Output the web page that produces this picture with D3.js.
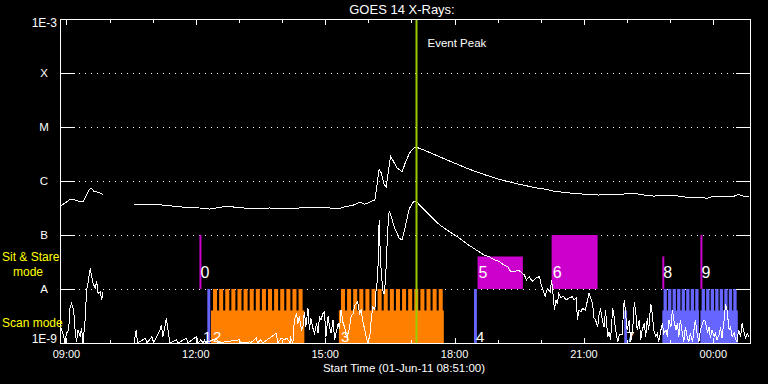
<!DOCTYPE html>
<html>
<head>
<meta charset="utf-8">
<script src="https://cdn.jsdelivr.net/npm/d3@7"></script>
<style>
  body { margin: 0; background: #000; }
  svg { display: block; font-family: "Liberation Sans", Arial, sans-serif; }
</style>
</head>
<body>
<svg id="chart" width="768" height="384"></svg>
<script>
// plot starts 01-Jun-11 08:51:00 and runs 16 hours
const startTime = Date.UTC(2011, 5, 1, 8, 51);
const spanMinutes = 960;
const levelNames = ["A", "B", "C", "M", "X"];
const levelValues = [1e-8, 1e-7, 1e-6, 1e-5, 1e-4];
const eventPeak = "17:07";

// GOES long channel: [minutes after 08:51, log10 flux]
const longChannel = [
  [1,-6.46],[7,-6.41],[14,-6.34],[21,-6.35],[28,-6.39],[32,-6.38],[36,-6.29],[41,-6.15],[44,-6.14],[47,-6.19],
  [53,-6.21],[60,-6.25],[61,null],
  [103,-6.44],[111,-6.43],[125,-6.43],[139,-6.44],[153,-6.46],[167,-6.48],[181,-6.49],[194,-6.50],[208,-6.52],
  [226,-6.48],[240,-6.48],[264,-6.51],[292,-6.50],[319,-6.51],[347,-6.49],[375,-6.50],[389,-6.51],[396,-6.48],
  [410,-6.44],[417,-6.39],[424,-6.43],[433,-6.38],[438,-6.35],[440,-6.17],[444,-5.78],[447,-5.85],[451,-6.07],
  [454,-6.11],[457,-5.80],[460,-5.54],[464,-5.64],[469,-5.76],[476,-5.83],[481,-5.64],[486,-5.49],[492,-5.39],
  [497,-5.38],[507,-5.43],[528,-5.55],[549,-5.67],[569,-5.78],[590,-5.88],[611,-5.97],[639,-6.06],[667,-6.14],
  [674,-6.15],[688,-6.19],[701,-6.21],[715,-6.23],[736,-6.25],[750,-6.26],[757,-6.25],[771,-6.26],[785,-6.24],
  [799,-6.23],[813,-6.26],[826,-6.28],[847,-6.26],[861,-6.28],[872,-6.30],[889,-6.30],[900,-6.32],[910,-6.28],
  [924,-6.28],[938,-6.28],[944,-6.25],[951,-6.28],[958,-6.28]
];

// GOES short channel: [minutes after 08:51, log10 flux]
const shortChannel = [
  [2,-8.73],[5,-8.88],[7,-9],[9,-8.82],[12,-8.76],[14,-8.33],[16,-8.27],[19,-8.39],[21,-8.76],[23,-8.98],
  [25,-8.76],[28,-8.88],[30,-8.73],[32,-9],[35,-8.57],[37,-8.02],[39,-7.89],[42,-7.62],[44,-7.77],[46,-7.89],
  [49,-7.99],[51,-7.86],[53,-8.08],[56,-8.05],[58,-8.2],[60,-8.05],[61,null],
  [103,-9],[106,-8.76],[108,-9],[119,-8.91],[121,-9],[128,-8.88],[130,-9],[139,-8.76],[141,-8.67],[143,-8.88],
  [146,-8.7],[148,-8.54],[150,-8.73],[153,-9],[162,-8.94],[164,-9],[176,-8.91],[178,-9],[190,-8.88],[192,-9],
  [196,-8.94],[199,-9],[201,-8.94],[203,-9],[218,-8.91],[219,-9],[250,-8.94],[251,-9],[264,-8.98],[265,-9],
  [273,-8.91],[275,-9],[279,-8.94],[282,-9],[301,-8.82],[303,-9],[308,-8.91],[312,-8.94],[316,-8.91],[320,-9],
  [321,-8.91],[324,-9],[326,-8.57],[329,-8.45],[331,-8.64],[333,-8.51],[336,-8.76],[338,-8.7],[340,-8.42],
  [342,-8.7],[345,-8.36],[347,-8.76],[349,-8.54],[352,-8.73],[354,-8.82],[357,-8.64],[359,-8.82],[361,-8.51],
  [363,-8.57],[366,-8.45],[368,-8.42],[370,-8.88],[373,-8.51],[375,-8.7],[377,-8.82],[380,-8.57],[382,-8.94],
  [384,-8.82],[387,-8.64],[389,-8.73],[391,-8.39],[394,-8.64],[396,-8.7],[398,-8.85],[400,-8.88],[403,-8.7],
  [405,-8.51],[408,-8.45],[410,-8.3],[412,-8.27],[414,-8.24],[417,-8.45],[419,-8.39],[421,-8.57],[424,-8.76],
  [426,-8.88],[428,-8.98],[431,-8.88],[433,-8.57],[435,-8.33],[438,-8.39],[440,-7.96],[442,-7.83],[444,-6.72],
  [446,-7.5],[449,-8.02],[451,-8.1],[453,-7.8],[456,-6.9],[458,-6.55],[461,-6.66],[465,-6.85],[472,-7.06],
  [476,-7.09],[481,-6.81],[486,-6.51],[492,-6.38],[496,-6.38],[500,-6.44],[514,-6.63],[528,-6.81],[542,-6.94],
  [556,-7.06],[569,-7.19],[583,-7.31],[590,-7.37],[597,-7.4],[604,-7.46],[611,-7.49],[618,-7.56],[623,-7.59],
  [627,-7.68],[632,-7.68],[637,-7.65],[641,-7.68],[646,-7.74],[649,-7.83],[653,-7.77],[657,-7.86],[662,-7.8],
  [667,-7.77],[669,-7.89],[672,-8.02],[675,-8.14],[678,-7.99],[682,-8.05],[684,-7.83],[688,-8.39],[690,-8.2],
  [692,-8.27],[694,-8.08],[697,-8.17],[700,-8.13],[704,-8.2],[708,-8.17],[713,-8.14],[715,-8.2],[718,-8.17],
  [720,-8.57],[722,-8.39],[725,-8.42],[727,-8.36],[731,-8.39],[736,-8.08],[739,-8.2],[741,-8.27],[743,-8.54],
  [745,-8.57],[748,-8.7],[750,-8.48],[752,-8.36],[755,-8.6],[757,-8.7],[759,-8.39],[762,-8.88],[764,-8.8],
  [766,-8.94],[769,-8.36],[771,-8.51],[773,-8.76],[776,-8.98],[778,-8.85],[782,-8.85],[785,-8.2],[787,-8.45],
  [789,-8.76],[792,-8.57],[794,-8.98],[797,-8.7],[799,-8.24],[801,-8.42],[803,-8.76],[806,-8.57],[808,-8.94],
  [810,-8.76],[813,-8.64],[815,-8.88],[817,-8.54],[819,-8.76],[822,-8.27],[824,-8.45],[826,-8.76],[829,-8.88],
  [831,-8.82],[833,-8.98],[836,-8.76],[838,-8.64],[840,-8.82],[843,-8.76],[845,-8.88],[847,-8.57],[850,-8.7],
  [852,-8.39],[854,-8.57],[857,-8.76],[859,-8.64],[861,-8.88],[863,-8.57],[866,-8.82],[868,-8.98],[870,-8.7],
  [873,-8.91],[875,-8.98],[877,-8.82],[880,-8.98],[882,-8.76],[884,-8.57],[887,-8.88],[889,-8.98],[891,-8.76],
  [894,-8.64],[896,-8.57],[898,-8.6],[901,-8.82],[903,-8.7],[905,-8.91],[907,-8.76],[910,-8.88],[912,-8.82],
  [914,-8.94],[917,-8.85],[919,-8.7],[921,-8.91],[924,-8.57],[926,-8.27],[928,-8.39],[931,-8.76],[933,-8.7],
  [935,-8.88],[938,-8.82],[940,-8.94],[942,-8.98],[944,-8.76],[947,-8.88],[949,-8.64],[951,-8.76],[954,-8.91],
  [956,-8.82],[958,-8.88]
];

// sit & stare observations (drawn between A level and "top")
const sitStare = [
  { id: "0", start: "12:05", end: "12:06", top: 1e-7 },
  { id: "5", start: "18:32", end: "19:35", top: 4e-8 },
  { id: "6", start: "20:15", end: "21:19", top: 1e-7 },
  { id: "8", start: "22:49", end: "22:50", top: 4e-8 },
  { id: "9", start: "23:42", end: "23:43", top: 1e-7 }
];

// scan observations: solid from 1E-9 to "top", raster steps every "cadence" minutes up to A level
const scans = [
  { id: "1", start: "12:16", end: "12:20", top: 1e-8, kind: "blue",   cadence: 0,   expo: 0 },
  { id: "2", start: "12:21", end: "14:31", top: 4e-9, kind: "orange", cadence: 8.5, expo: 5.6 },
  { id: "3", start: "15:19", end: "17:45", top: 4e-9, kind: "orange", cadence: 8.5, expo: 5.6 },
  { id: "4", start: "18:27", end: "18:31", top: 1e-8, kind: "blue",   cadence: 0,   expo: 0 },
  { id: "7", start: "21:56", end: "22:00", top: 4e-9, kind: "blue",   cadence: 0,   expo: 0 },
  { id: "",  start: "22:49", end: "23:40", top: 4e-9, kind: "blue",   cadence: 6.3, expo: 4.6 },
  { id: "",  start: "23:42", end: "00:34", top: 4e-9, kind: "blue",   cadence: 6.3, expo: 4.6 }
];

const colors = { orange: "#ff8000", blue: "#6666ff", magenta: "#cc00cc", peak: "#99cc00", label: "#ffff00" };

const clock = (s) => {
  const [h, m] = s.split(":").map(Number);
  let t = Date.UTC(2011, 5, 1, h, m);
  if (h < 8) t += 864e5;
  return new Date(t);
};
const fromStart = (min) => new Date(startTime + min * 60000);

const svg = d3.select("#chart");
svg.append("rect").attr("width", 768).attr("height", 384).attr("fill", "#000");

const pLeft = 60, pRight = 750, pTop = 19, pBottom = 343;
const x = d3.scaleUtc().domain([fromStart(0), fromStart(spanMinutes)]).range([pLeft, pRight]);
const y = d3.scaleLog().domain([1e-9, 1e-3]).range([pBottom, pTop]).clamp(true);

// dotted level lines
svg.append("g").selectAll("line")
  .data(levelValues).enter().append("line")
  .attr("x1", pLeft + 19).attr("x2", pRight - 14)
  .attr("y1", d => Math.round(y(d)) + 0.5).attr("y2", d => Math.round(y(d)) + 0.5)
  .attr("stroke", "#fff").attr("stroke-dasharray", "1,5");

// sit & stare bars
svg.append("g").selectAll("rect")
  .data(sitStare).enter().append("rect")
  .attr("x", d => x(clock(d.start)))
  .attr("width", d => Math.max(2, x(clock(d.end)) - x(clock(d.start))))
  .attr("y", d => y(d.top))
  .attr("height", d => y(1e-8) - y(d.top))
  .attr("fill", colors.magenta);

// scan bodies
svg.append("g").selectAll("rect")
  .data(scans).enter().append("rect")
  .attr("x", d => x(clock(d.start)))
  .attr("width", d => x(clock(d.end)) - x(clock(d.start)))
  .attr("y", d => y(d.top))
  .attr("height", d => y(1e-9) - y(d.top))
  .attr("fill", d => colors[d.kind]);

// raster steps
const steps = [];
scans.filter(d => d.cadence > 0).forEach(d => {
  const t0 = clock(d.start).getTime(), t1 = clock(d.end).getTime();
  for (let k = 1; t0 + k * d.cadence * 60000 <= t1 + 30000; k++) {
    const e = t0 + k * d.cadence * 60000;
    steps.push({ a: new Date(e - d.expo * 60000), b: new Date(e), kind: d.kind, top: d.top });
  }
});
svg.append("g").selectAll("rect")
  .data(steps).enter().append("rect")
  .attr("x", d => x(d.a))
  .attr("width", d => x(d.b) - x(d.a))
  .attr("y", y(1e-8))
  .attr("height", d => y(d.top) - y(1e-8) + 1)
  .attr("fill", d => colors[d.kind]);

// observation numbers
const numFont = '"Liberation Sans Narrow", "Liberation Sans", sans-serif';
svg.append("g").selectAll("text")
  .data(sitStare).enter().append("text")
  .attr("x", d => x(clock(d.start)) + 1).attr("y", 278)
  .attr("fill", "#fff").style("font-family", numFont).style("font-size", "16px")
  .text(d => d.id);
// a label that would run into the next one is set ending over its own bar
const scanLabels = scans.filter(d => d.id);
svg.append("g").selectAll("text")
  .data(scanLabels).enter().append("text")
  .each(function (d, i) {
    const xs = x(clock(d.start));
    const nxt = scanLabels[i + 1];
    const tight = nxt && x(clock(nxt.start)) - xs < 10;
    d3.select(this)
      .attr("x", tight ? xs + 4 : xs + 2)
      .attr("text-anchor", tight ? "end" : "start");
  })
  .attr("y", 342)
  .attr("fill", "#fff").style("font-family", numFont).style("font-size", "15px")
  .text(d => d.id);

// flux curves
const line = d3.line()
  .defined(d => d[1] != null)
  .x(d => x(fromStart(d[0])))
  .y(d => y(Math.pow(10, d[1])));
[longChannel, shortChannel].forEach(series => {
  svg.append("path").datum(series)
    .attr("d", line)
    .attr("fill", "none").attr("stroke", "#fff").attr("stroke-width", 1)
    .attr("shape-rendering", "crispEdges");
});

// event peak
const xp = x(clock(eventPeak));
svg.append("line").attr("x1", xp).attr("x2", xp).attr("y1", pTop).attr("y2", pBottom)
  .attr("stroke", colors.peak).attr("stroke-width", 2);
svg.append("text").attr("x", xp + 11).attr("y", 47).attr("fill", "#fff")
  .style("font-size", "11.5px").text("Event Peak");

// frame
svg.append("rect").attr("x", pLeft + 0.5).attr("y", pTop + 0.5)
  .attr("width", pRight - pLeft).attr("height", pBottom - pTop)
  .attr("fill", "none").attr("stroke", "#fff");

// y ticks on both sides
const decades = [1e-9, 1e-8, 1e-7, 1e-6, 1e-5, 1e-4, 1e-3];
const yt = svg.append("g").attr("stroke", "#fff");
decades.forEach(v => {
  const yy = Math.round(y(v)) + 0.5;
  yt.append("line").attr("x1", pLeft).attr("x2", pLeft + 15).attr("y1", yy).attr("y2", yy);
  yt.append("line").attr("x1", pRight - 14).attr("x2", pRight + 1).attr("y1", yy).attr("y2", yy);
});

// y labels
svg.append("g").selectAll("text")
  .data(levelValues).enter().append("text")
  .attr("x", 44).attr("y", d => y(d) + 4).attr("text-anchor", "middle")
  .attr("fill", "#fff").style("font-size", "11.5px")
  .text((d, i) => levelNames[i]);
svg.append("text").attr("x", 57).attr("y", pTop + 8).attr("text-anchor", "end")
  .attr("fill", "#fff").style("font-size", "12px").text("1E-3");
svg.append("text").attr("x", 57).attr("y", pBottom).attr("text-anchor", "end")
  .attr("fill", "#fff").style("font-size", "12px").text("1E-9");

// x ticks, top and bottom
const hours = x.ticks(d3.utcHour.every(1));
const xt = svg.append("g").attr("stroke", "#fff");
hours.forEach(h => {
  const xx = Math.round(x(h)) + 0.5;
  const len = h.getUTCHours() % 3 === 0 ? 6 : 4;
  xt.append("line").attr("x1", xx).attr("x2", xx).attr("y1", pTop).attr("y2", pTop + len);
  xt.append("line").attr("x1", xx).attr("x2", xx).attr("y1", pBottom + 1).attr("y2", pBottom + 1 - len);
});
svg.append("g").selectAll("text")
  .data(hours.filter(h => h.getUTCHours() % 3 === 0)).enter().append("text")
  .attr("x", d => x(d)).attr("y", 358).attr("text-anchor", "middle")
  .attr("fill", "#fff").style("font-size", "11px")
  .text(d3.utcFormat("%H:%M"));

// titles
svg.append("text").attr("x", 402).attr("y", 14).attr("text-anchor", "middle")
  .attr("fill", "#fff").style("font-size", "13px").text("GOES 14 X-Rays:");
svg.append("text").attr("x", 404).attr("y", 372).attr("text-anchor", "middle")
  .attr("fill", "#fff").style("font-size", "11.5px").text("Start Time (01-Jun-11 08:51:00)");

// mode labels
const modeLabels = [
  { text: "Sit & Stare", x: 2, y: 261 },
  { text: "mode", x: 13, y: 276 },
  { text: "Scan mode", x: 2, y: 327 }
];
svg.append("g").selectAll("text")
  .data(modeLabels).enter().append("text")
  .attr("x", d => d.x).attr("y", d => d.y)
  .attr("fill", colors.label).style("font-size", "12px")
  .text(d => d.text);
</script>
</body>
</html>
